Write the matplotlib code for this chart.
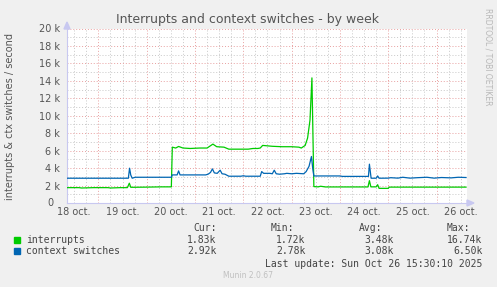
import matplotlib
matplotlib.use("Agg")
import matplotlib.pyplot as plt
from matplotlib.patches import Rectangle, Polygon

W, H = 497, 287

# time in days since 18 oct 00:00, values in thousands per second
irq_t = [0.35, 0.60, 0.65, 0.90, 1.20, 1.25, 1.45, 1.60, 1.64, 1.67, 1.70, 2.00,
         2.30, 2.51, 2.53, 2.60, 2.66, 2.75, 2.90, 3.10, 3.25, 3.37, 3.45, 3.60,
         3.70, 4.10, 4.20, 4.30, 4.35, 4.40, 4.60, 4.80, 5.00, 5.15, 5.20, 5.28,
         5.33, 5.38, 5.42, 5.46, 5.55, 5.60, 5.70, 6.00, 6.58, 6.61, 6.64, 6.75,
         6.78, 6.81, 7.00, 7.02, 8.61]
irq_v = [1.76, 1.76, 1.72, 1.76, 1.76, 1.72, 1.76, 1.76, 2.27, 1.80, 1.80, 1.82,
         1.85, 1.85, 6.40, 6.30, 6.48, 6.30, 6.25, 6.30, 6.30, 6.75, 6.45, 6.40,
         6.17, 6.17, 6.25, 6.25, 6.30, 6.60, 6.50, 6.45, 6.45, 6.40, 6.30, 6.60,
         7.44, 9.50, 14.34, 1.88, 1.85, 1.92, 1.84, 1.84, 1.84, 2.56, 1.85, 1.85,
         2.10, 1.68, 1.68, 1.82, 1.82]

ctx_t = [0.35, 1.62, 1.645, 1.67, 1.70, 1.76, 2.51, 2.53, 2.63, 2.66, 2.69, 3.22,
         3.27, 3.32, 3.36, 3.40, 3.46, 3.52, 3.56, 3.62, 3.70, 3.95, 4.00, 4.05,
         4.35, 4.38, 4.42, 4.55, 4.60, 4.64, 4.68, 4.75, 4.85, 4.90, 5.00, 5.10,
         5.25, 5.30, 5.36, 5.41, 5.44, 5.46, 6.00, 6.05, 6.59, 6.61, 6.645, 6.75,
         6.78, 6.81, 7.00, 7.05, 7.20, 7.30, 7.45, 7.60, 7.80, 7.95, 8.10, 8.30,
         8.45, 8.61]
ctx_v = [2.84, 2.84, 3.99, 3.20, 2.84, 2.95, 2.95, 3.22, 3.22, 3.68, 3.22, 3.22,
         3.30, 3.50, 3.91, 3.45, 3.40, 3.76, 3.35, 3.30, 3.07, 3.07, 3.12, 3.07,
         3.07, 3.60, 3.40, 3.40, 3.35, 3.76, 3.35, 3.30, 3.35, 3.40, 3.35, 3.40,
         3.35, 3.60, 4.20, 5.33, 3.80, 3.10, 3.10, 3.05, 3.05, 4.45, 2.84, 2.84,
         3.10, 2.84, 2.85, 2.90, 2.85, 2.95, 2.85, 2.90, 2.95, 2.85, 2.92, 2.88,
         2.95, 2.92]

day_labels = ["18 oct.", "19 oct.", "20 oct.", "21 oct.", "22 oct.",
              "23 oct.", "24 oct.", "25 oct.", "26 oct."]
y_ticks = [0, 2, 4, 6, 8, 10, 12, 14, 16, 18, 20]

series_names = ["interrupts", "context switches"]
cur = ["1.83k", "2.92k"]
mins = ["1.72k", "2.78k"]
avgs = ["3.48k", "3.08k"]
maxs = ["16.74k", "6.50k"]

GREEN = "#00cc00"
BLUE = "#0066b3"
TXT = "#555555"


def fx(x):
    return x / W


def fy(y):
    return 1 - y / H


fig = plt.figure(figsize=(W / 100, H / 100), dpi=100, facecolor="#f0f0f0")
ax = fig.add_axes([fx(67), fy(203), (467 - 67) / W, (203 - 28.5) / H])
ax.set_facecolor("white")

x0, x1 = 0.35, 8.63
ax.set_xlim(x0, x1)
ax.set_ylim(0, 20)

# grid: minor every 6h / 1k, major every day / 2k
k = 0.0
while k <= 9:
    if x0 < k < x1 and abs(k - round(k)) > 0.01:
        ax.axvline(k, color="#c8c8c8", lw=0.7, ls=(0, (1, 2)), zorder=1)
    k += 0.25
for d in range(1, 9):
    ax.axvline(d, color="#e8a0a0", lw=0.7, ls=(0, (1, 2)), zorder=1.5)
for v in range(1, 20, 2):
    ax.axhline(v, color="#c8c8c8", lw=0.7, ls=(0, (1, 2)), zorder=1)
for v in y_ticks[1:]:
    ax.axhline(v, color="#e8a0a0", lw=0.7, ls=(0, (1, 2)), zorder=1.5)

ax.plot(irq_t, irq_v, color=GREEN, lw=0.9, zorder=3)
ax.plot(ctx_t, ctx_v, color=BLUE, lw=0.9, zorder=3)

for s in ["top", "right"]:
    ax.spines[s].set_visible(False)
for s in ["left", "bottom"]:
    ax.spines[s].set_color("#c8c8f0")
    ax.spines[s].set_linewidth(0.8)

ax.set_yticks(y_ticks)
ax.set_yticklabels([""] + [f"{v} k" for v in y_ticks[1:]])
ax.set_xticks([d + 0.5 for d in range(len(day_labels))])
ax.set_xticklabels(day_labels)
ax.tick_params(axis="y", length=0, labelsize=7, colors=TXT, pad=5)
ax.tick_params(axis="x", length=0, labelsize=7, colors=TXT, pad=3)
ax.set_xlim(x0, x1)
# rrdtool leaves room for the unit after the zero label
fig.text(fx(53.5), fy(203), "0", ha="right", va="center", fontsize=7, color=TXT)

# axis arrows
fig.patches.append(Polygon([[fx(64), fy(29)], [fx(70), fy(29)], [fx(67), fy(22)]],
                           closed=True, color="#c8c8f0", transform=fig.transFigure))
fig.patches.append(Polygon([[fx(467), fy(200)], [fx(467), fy(206)], [fx(474), fy(203)]],
                           closed=True, color="#c8c8f0", transform=fig.transFigure))

fig.text(fx(248), fy(19), "Interrupts and context switches - by week",
         ha="center", va="center", fontsize=9, color=TXT)
fig.text(fx(10), fy(116), "interrupts & ctx switches / second", rotation=90,
         ha="center", va="center", fontsize=7, color=TXT)
fig.text(fx(488), fy(8), "RRDTOOL / TOBI OETIKER", rotation=270,
         ha="center", va="top", fontsize=5.5, color="#b8b8b8")

mono = dict(family="DejaVu Sans Mono", fontsize=7, color="#444444", va="center")
fig.text(fx(216.7), fy(227.7), "Cur:", ha="right", **mono)
fig.text(fx(294), fy(227.7), "Min:", ha="right", **mono)
fig.text(fx(382), fy(227.7), "Avg:", ha="right", **mono)
fig.text(fx(470), fy(227.7), "Max:", ha="right", **mono)
rows = [239.7, 251.3]
for i, name in enumerate(series_names):
    y = rows[i]
    col = GREEN if i == 0 else BLUE
    fig.patches.append(Rectangle((fx(14), fy(y + 3)), 6 / W, 6 / H, color=col,
                                 transform=fig.transFigure))
    fig.text(fx(26.5), fy(y), name, ha="left", **mono)
    fig.text(fx(216.7), fy(y), cur[i], ha="right", **mono)
    fig.text(fx(305.7), fy(y), mins[i], ha="right", **mono)
    fig.text(fx(393.3), fy(y), avgs[i], ha="right", **mono)
    fig.text(fx(482.3), fy(y), maxs[i], ha="right", **mono)
fig.text(fx(482.3), fy(263.7), "Last update: Sun Oct 26 15:30:10 2025", ha="right", **mono)
fig.text(fx(248), fy(276), "Munin 2.0.67", ha="center", va="center",
         fontsize=5.5, color="#c0c0c0")

fig.savefig("out.png", dpi=100, facecolor=fig.get_facecolor())
